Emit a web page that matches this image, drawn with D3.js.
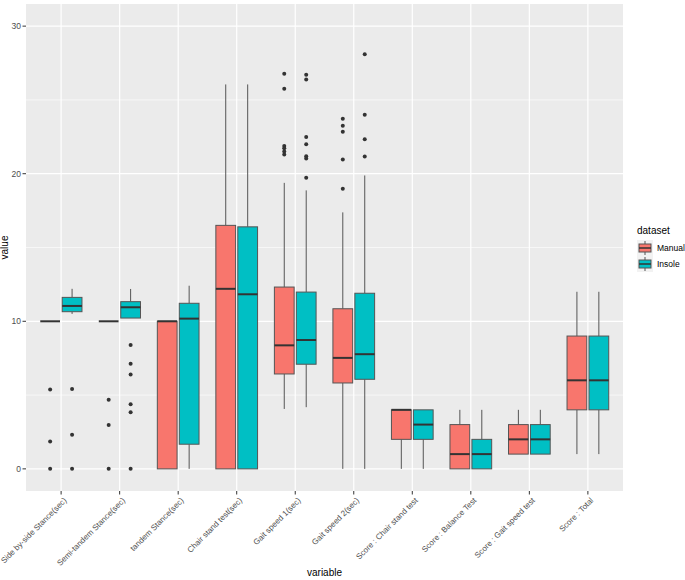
<!DOCTYPE html>
<html>
<head>
<meta charset="utf-8">
<script src="https://cdn.jsdelivr.net/npm/d3@7"></script>
<style>
  body { margin: 0; background: #fff; }
  svg { font-family: "Liberation Sans", Arial, sans-serif; }
</style>
</head>
<body>
<svg class="chart" width="685" height="580"></svg>
<script>
var categories = ["Side by-side Stance(sec)", "Semi-tandem Stance(sec)", "tandem Stance(sec)",
  "Chair stand test(sec)", "Gait speed 1(sec)", "Gait speed 2(sec)",
  "Score : Chair stand test", "Score : Balance Test", "Score : Gait speed test", "Score : Total"];
var datasets = ["Manual", "Insole"];
var colors = ["#F8766D", "#00BFC4"];
var yTicks = [0, 10, 20, 30];

// [lower whisker, q1, median, q3, upper whisker]
var manualBox = [
  [10, 10, 10, 10, 10],
  [10, 10, 10, 10, 10],
  [0, 0, 10, 10, 10],
  [0, 0, 12.2, 16.5, 26.05],
  [4.06, 6.43, 8.37, 12.32, 19.38],
  [0, 5.82, 7.52, 10.85, 17.38],
  [0, 2, 4, 4, 4],
  [0, 0, 1, 3, 4],
  [1, 1, 2, 3, 4],
  [1, 4, 6, 9, 12]
];
var insoleBox = [
  [10.5, 10.65, 11.04, 11.62, 12.2],
  [10.22, 10.22, 10.95, 11.33, 12.19],
  [0, 1.67, 10.18, 11.22, 12.41],
  [0, 0, 11.83, 16.4, 26.05],
  [4.18, 7.09, 8.73, 11.98, 18.87],
  [0, 6.07, 7.77, 11.9, 19.88],
  [0, 2, 3, 4, 4],
  [0, 0, 1, 2, 4],
  [1, 1, 2, 3, 4],
  [1, 4, 6, 9, 12]
];
var manualOutliers = [
  [5.37, 1.85, 0],
  [4.69, 2.98, 0],
  [],
  [],
  [26.77, 25.75, 21.87, 21.73, 21.5, 21.3],
  [23.72, 23.25, 22.84, 20.97, 18.98],
  [], [], [], []
];
var insoleOutliers = [
  [5.42, 2.32, 0],
  [8.4, 7.13, 6.39, 4.38, 3.84, 0],
  [],
  [],
  [26.7, 26.38, 22.48, 22.0, 21.19, 21.03, 19.72],
  [28.1, 23.99, 22.34, 21.17],
  [], [], [], []
];

var svg = d3.select("svg.chart");
var margin = {top: 4, right: 62, bottom: 89, left: 26};
var W = 685, H = 580;
var pw = W - margin.left - margin.right, ph = H - margin.top - margin.bottom;

// ggplot style expansion: 0.6 of a category each side
var x = d3.scalePoint().domain(categories)
  .range([margin.left, margin.left + pw]).padding(0.6);
var step = x.step();
var y = d3.scaleLinear().domain([-1.5, 31.5]).range([margin.top + ph, margin.top]);

// panel
svg.append("rect").attr("x", margin.left).attr("y", margin.top)
  .attr("width", pw).attr("height", ph).attr("fill", "#EBEBEB");

var grid = svg.append("g");
[5, 15, 25].forEach(function(v) {
  grid.append("line").attr("x1", margin.left).attr("x2", margin.left + pw)
    .attr("y1", y(v)).attr("y2", y(v)).attr("stroke", "#fff").attr("stroke-width", 0.6);
});
yTicks.forEach(function(v) {
  grid.append("line").attr("x1", margin.left).attr("x2", margin.left + pw)
    .attr("y1", y(v)).attr("y2", y(v)).attr("stroke", "#fff").attr("stroke-width", 1.2);
});
categories.forEach(function(c) {
  grid.append("line").attr("x1", x(c)).attr("x2", x(c))
    .attr("y1", margin.top).attr("y2", margin.top + ph).attr("stroke", "#fff").attr("stroke-width", 1.2);
});

// boxes
var dodge = step * 0.75 / 2;
var bw = dodge * 0.9;
var boxes = [manualBox, insoleBox], outs = [manualOutliers, insoleOutliers];
var g = svg.append("g");
datasets.forEach(function(ds, k) {
  boxes[k].forEach(function(s, i) {
    var cx = x(categories[i]) + (k === 0 ? -dodge / 2 : dodge / 2);
    g.append("line").attr("x1", cx).attr("x2", cx).attr("y1", y(s[3])).attr("y2", y(s[4]))
      .attr("stroke", "#555").attr("stroke-width", 1);
    g.append("line").attr("x1", cx).attr("x2", cx).attr("y1", y(s[0])).attr("y2", y(s[1]))
      .attr("stroke", "#555").attr("stroke-width", 1);
    g.append("rect").attr("x", cx - bw / 2).attr("width", bw)
      .attr("y", y(s[3])).attr("height", Math.max(0, y(s[1]) - y(s[3])))
      .attr("fill", colors[k]).attr("stroke", "#555").attr("stroke-width", 1);
    g.append("line").attr("x1", cx - bw / 2).attr("x2", cx + bw / 2)
      .attr("y1", y(s[2])).attr("y2", y(s[2]))
      .attr("stroke", "#333").attr("stroke-width", 2);
    outs[k][i].forEach(function(v) {
      g.append("circle").attr("cx", cx).attr("cy", y(v)).attr("r", 2).attr("fill", "#333");
    });
  });
});

// y axis
var yAxis = svg.append("g");
yTicks.forEach(function(v) {
  yAxis.append("line").attr("x1", margin.left - 3.5).attr("x2", margin.left)
    .attr("y1", y(v)).attr("y2", y(v)).attr("stroke", "#333");
  yAxis.append("text").attr("x", margin.left - 5).attr("y", y(v)).attr("dy", "0.35em")
    .attr("text-anchor", "end").attr("font-size", 8.5).attr("fill", "#4D4D4D").text(v);
});
svg.append("text").attr("transform", "translate(8," + (margin.top + ph / 2) + ") rotate(-90)")
  .attr("text-anchor", "middle").attr("font-size", 10).attr("fill", "#000").text("value");

// x axis
var xAxis = svg.append("g");
categories.forEach(function(c) {
  var bx = margin.top + ph;
  xAxis.append("line").attr("x1", x(c)).attr("x2", x(c)).attr("y1", bx).attr("y2", bx + 3.5)
    .attr("stroke", "#333");
  xAxis.append("text").attr("transform", "translate(" + (x(c) + 2) + "," + (bx + 6) + ") rotate(-45)")
    .attr("text-anchor", "end").attr("dy", "0.7em").attr("font-size", 8).attr("fill", "#4D4D4D").text(c);
});
svg.append("text").attr("x", margin.left + pw / 2).attr("y", 576)
  .attr("text-anchor", "middle").attr("font-size", 10).attr("fill", "#000").text("variable");

// legend
var lg = svg.append("g").attr("transform", "translate(637,0)");
lg.append("text").attr("x", 0).attr("y", 234).attr("font-size", 10).attr("fill", "#000").text("dataset");
datasets.forEach(function(ds, k) {
  var ky = 240 + k * 16;
  lg.append("rect").attr("x", 0).attr("y", ky).attr("width", 16).attr("height", 16).attr("fill", "#F2F2F2");
  lg.append("line").attr("x1", 8).attr("x2", 8).attr("y1", ky + 1).attr("y2", ky + 15).attr("stroke", "#555");
  lg.append("rect").attr("x", 2).attr("y", ky + 4).attr("width", 12).attr("height", 8)
    .attr("fill", colors[k]).attr("stroke", "#555");
  lg.append("line").attr("x1", 2).attr("x2", 14).attr("y1", ky + 8).attr("y2", ky + 8)
    .attr("stroke", "#333").attr("stroke-width", 1.5);
  lg.append("text").attr("x", 20).attr("y", ky + 8).attr("dy", "0.35em").attr("font-size", 8.5)
    .attr("fill", "#000").text(ds);
});
</script>
</body>
</html>
